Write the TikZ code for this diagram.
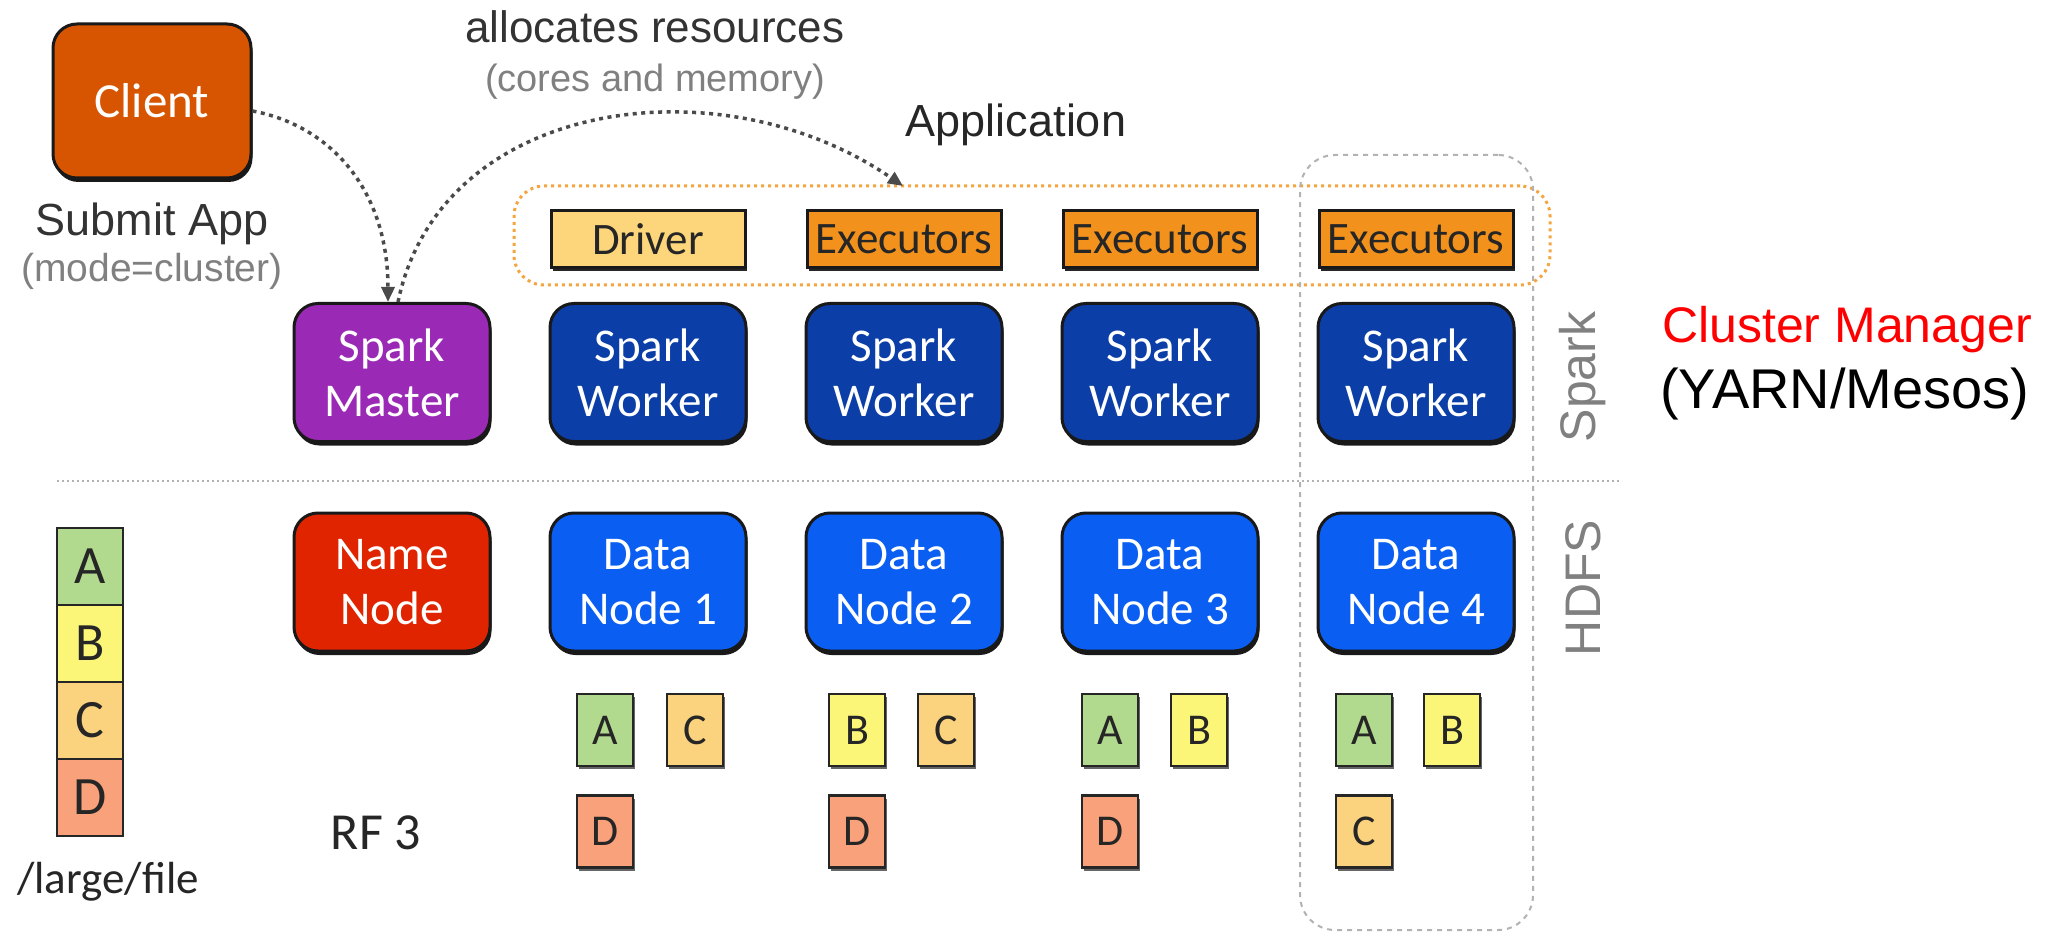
\documentclass[tikz,border=0pt]{standalone}
\usepackage{fontspec}
\setmainfont{Liberation Sans}
\newfontfamily\gillfont{Carlito}
\usetikzlibrary{shadows,arrows.meta}
\definecolor{clientc}{HTML}{D75400}
\definecolor{masterc}{HTML}{9A2AB5}
\definecolor{workerc}{HTML}{0B3EA6}
\definecolor{namec}{HTML}{E02400}
\definecolor{datac}{HTML}{0A5EF2}
\definecolor{driverc}{HTML}{FDD67C}
\definecolor{execc}{HTML}{F2921C}
\definecolor{blka}{HTML}{B2DA8E}
\definecolor{blkb}{HTML}{FBF678}
\definecolor{blkc}{HTML}{FBD37E}
\definecolor{blkd}{HTML}{F8A17A}
\definecolor{appc}{HTML}{F4A540}
\definecolor{arrowc}{HTML}{4A4A4A}
\definecolor{cmred}{HTML}{FF0000}
\begin{document}
\begin{tikzpicture}[x=1pt,y=-1pt,
  bigbox/.style={draw=black!90, line width=3pt, rounded corners=24pt, minimum width=196pt, minimum height=138pt, text=white, align=center, inner sep=0pt, font=\gillfont\fontsize{47}{55}\selectfont, drop shadow={shadow xshift=1.5pt, shadow yshift=-4pt, opacity=0.9, fill=black}},
  appbox/.style={draw=black!90, line width=3pt, minimum width=194pt, minimum height=57pt, inner sep=0pt, font=\gillfont\fontsize{45}{50}\selectfont, text=black!85, drop shadow={shadow xshift=1.5pt, shadow yshift=-3.5pt, opacity=0.85, fill=black}},
  blk/.style={draw=black!85, line width=2.5pt, minimum width=56pt, minimum height=72pt, inner sep=0pt, font=\gillfont\fontsize{44}{48}\selectfont, text=black!85, drop shadow={shadow xshift=1.5pt, shadow yshift=-3pt, opacity=0.6, fill=black}},
  stk/.style={draw=black!85, line width=2.5pt, minimum width=66pt, minimum height=77pt, inner sep=0pt, font=\gillfont\fontsize{54}{58}\selectfont, text=black!85},
  lbl/.style={inner sep=0pt, anchor=base},
  flow/.style={arrowc, line width=3.5pt, dash pattern=on 4pt off 4.5pt, -{Triangle[length=15pt,width=13pt]}},
]
\fill[white] (0,0) rectangle (2068,949);
\useasboundingbox (0,0) rectangle (2068,949);

% groups
\node[draw=appc, line width=3pt, dash pattern=on 3pt off 4pt, rounded corners=30pt, minimum width=1036pt, minimum height=99pt, inner sep=0pt] (app) at (1032,235.5) {};
\node[draw=gray!60, line width=2pt, dash pattern=on 5pt off 5pt, rounded corners=35pt, minimum width=233pt, minimum height=775pt, inner sep=0pt] (col4) at (1416.5,542.5) {};
\coordinate (sepL) at (57,481);
\coordinate (sepR) at (1622,481);
\draw[gray!60, line width=2pt, dash pattern=on 2pt off 3pt] (sepL) -- (sepR);

% client
\node[bigbox, fill=clientc, minimum width=198pt, minimum height=154pt, font=\gillfont\fontsize{49}{55}\selectfont] (client) at (152,101) {Client};
\node[lbl, font=\fontsize{45}{50}\selectfont, text=black!80] (submit) at (152,236) {Submit App};
\node[lbl, font=\fontsize{39}{44}\selectfont, text=black!50] (mode) at (152,282) {(mode=cluster)};

% top labels
\node[lbl, font=\fontsize{44}{50}\selectfont, text=black!80] (alloc) at (655,43) {allocates resources};
\node[lbl, font=\fontsize{38}{44}\selectfont, text=black!50] (cores) at (655,92) {(cores and memory)};
\node[lbl, font=\fontsize{45}{50}\selectfont, text=black!85] (appl) at (1016,137) {Application};

% application boxes
\node[appbox, fill=driverc] (driver) at (648,239.5) {Driver};
\node[appbox, fill=execc] (exec2) at (904,239.5) {Executors};
\node[appbox, fill=execc] (exec3) at (1160,239.5) {Executors};
\node[appbox, fill=execc] (exec4) at (1416,239.5) {Executors};

% spark row
\node[bigbox, fill=masterc] (master) at (392,372.5) {Spark\\Master};
\node[bigbox, fill=workerc] (worker1) at (648,372.5) {Spark\\Worker};
\node[bigbox, fill=workerc] (worker2) at (904,372.5) {Spark\\Worker};
\node[bigbox, fill=workerc] (worker3) at (1160,372.5) {Spark\\Worker};
\node[bigbox, fill=workerc] (worker4) at (1416,372.5) {Spark\\Worker};

% hdfs row
\node[bigbox, fill=namec] (namenode) at (392,582) {Name\\Node};
\node[bigbox, fill=datac] (data1) at (648,582) {Data\\Node 1};
\node[bigbox, fill=datac] (data2) at (904,582) {Data\\Node 2};
\node[bigbox, fill=datac] (data3) at (1160,582) {Data\\Node 3};
\node[bigbox, fill=datac] (data4) at (1416,582) {Data\\Node 4};

% side labels
\node[rotate=90, inner sep=0pt, font=\fontsize{50}{56}\selectfont, text=black!50] (sparklbl) at (1583,377) {Spark};
\node[rotate=90, inner sep=0pt, font=\fontsize{50}{56}\selectfont, text=black!50] (hdfslbl) at (1583,588) {HDFS};
\node[anchor=base west, inner sep=0pt, font=\fontsize{50}{56}\selectfont, text=cmred] (cm) at (1662,342) {Cluster Manager};
\node[anchor=base west, inner sep=0pt, font=\fontsize{56}{62}\selectfont, text=black] (yarn) at (1660,408) {(YARN/Mesos)};

% file stack
\node[stk, fill=blka] (fa) at (90,566.5) {A};
\node[stk, fill=blkb] (fb) at (90,643.5) {B};
\node[stk, fill=blkc] (fc) at (90,720.5) {C};
\node[stk, fill=blkd] (fd) at (90,797.5) {D};
\node[lbl, font=\gillfont\fontsize{45}{50}\selectfont, text=black!85] (file) at (108,893) {/large/file};
\node[lbl, font=\gillfont\fontsize{52}{56}\selectfont, text=black!85] (rf) at (376,849) {RF 3};

% replicated blocks
\node[blk, fill=blka] (b1a) at (605,730) {A};
\node[blk, fill=blkc] (b1c) at (695,730) {C};
\node[blk, fill=blkd] (b1d) at (605,831.5) {D};
\node[blk, fill=blkb] (b2b) at (857,730) {B};
\node[blk, fill=blkc] (b2c) at (946,730) {C};
\node[blk, fill=blkd] (b2d) at (857,831.5) {D};
\node[blk, fill=blka] (b3a) at (1110,730) {A};
\node[blk, fill=blkb] (b3b) at (1199,730) {B};
\node[blk, fill=blkd] (b3d) at (1110,831.5) {D};
\node[blk, fill=blka] (b4a) at (1364,730) {A};
\node[blk, fill=blkb] (b4b) at (1452,730) {B};
\node[blk, fill=blkc] (b4c) at (1364,831.5) {C};

% connectors
\coordinate (apptop) at (903,186);
\draw[flow] ([yshift=-10pt]client.east) .. controls +(80,15) and +(0,-110) .. ([xshift=-4pt]master.north);
\draw[flow] ([xshift=6pt]master.north) .. controls +(42,-203) and +(-183,-126) .. (apptop);
\end{tikzpicture}
\end{document}
